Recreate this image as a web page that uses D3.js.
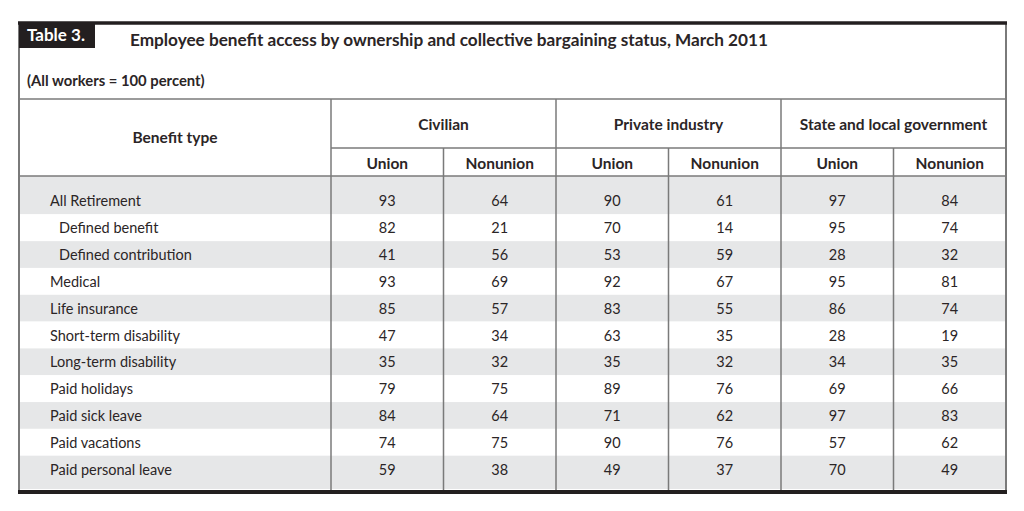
<!DOCTYPE html>
<html><head><meta charset="utf-8">
<script src="https://cdn.jsdelivr.net/npm/d3@7"></script>
<style>
html,body{margin:0;padding:0;background:#fff;}
svg{display:block;font-family:Lato,"Open Sans",sans-serif;}
</style></head>
<body>
<svg id="chart" width="1024" height="511"></svg>
<script>
const tableLabel = "Table 3.";
const title = "Employee benefit access by ownership and collective bargaining status, March 2011";
const subtitle = "(All workers = 100 percent)";
const stubHeader = "Benefit type";
const groups = ["Civilian", "Private industry", "State and local government"];
const subCols = ["Union", "Nonunion"];
const benefits = ["All Retirement", "Defined benefit", "Defined contribution", "Medical", "Life insurance",
  "Short-term disability", "Long-term disability", "Paid holidays", "Paid sick leave", "Paid vacations", "Paid personal leave"];
const indented = [false, true, true, false, false, false, false, false, false, false, false];
const civilianUnion =    [93, 82, 41, 93, 85, 47, 35, 79, 84, 74, 59];
const civilianNonunion = [64, 21, 56, 69, 57, 34, 32, 75, 64, 75, 38];
const privateUnion =     [90, 70, 53, 92, 83, 63, 35, 89, 71, 90, 49];
const privateNonunion =  [61, 14, 59, 67, 55, 35, 32, 76, 62, 76, 37];
const stateUnion =       [97, 95, 28, 95, 86, 28, 34, 69, 97, 57, 70];
const stateNonunion =    [84, 74, 32, 81, 74, 19, 35, 66, 83, 62, 49];
const seriesValues = [civilianUnion, civilianNonunion, privateUnion, privateNonunion, stateUnion, stateNonunion];

const svg = d3.select("#chart");
const L = 19, R = 1006, T = 23, B = 491;
const stubR = 331;
const yHead1 = 99, yHead2 = 148, yBody = 176;
const textColor = "#2b2526", lineColor = "#7a7a7a", band = "#e6e7e8";

const x = d3.scaleBand().domain(groups).range([stubR, R]);
const xs = d3.scaleBand().domain(subCols).range([0, x.bandwidth()]);
const y = d3.scaleBand().domain(d3.range(benefits.length)).range([187.5, 482.5]);

// background bands
svg.selectAll("rect.band").data(benefits).join("rect")
  .attr("class", "band")
  .attr("x", L).attr("width", R - L)
  .attr("y", (d, i) => i === 0 ? yBody : y(i))
  .attr("height", (d, i) => i === 0 ? y(i) + y.bandwidth() - yBody : (i === benefits.length - 1 ? B - 2 - y(i) : y.bandwidth()))
  .attr("fill", (d, i) => i % 2 === 0 ? band : "#fff");

// horizontal rules
const hl = (x1, x2, yy, w, c) => svg.append("line").attr("x1", x1).attr("x2", x2).attr("y1", yy).attr("y2", yy)
  .attr("stroke", c || lineColor).attr("stroke-width", w || 1.5);
hl(L, R, yHead1);
hl(stubR, R, yHead2);
hl(L, R, yBody);

// vertical rules
const vl = (xx, y1, y2, w, c) => svg.append("line").attr("x1", xx).attr("x2", xx).attr("y1", y1).attr("y2", y2)
  .attr("stroke", c || lineColor).attr("stroke-width", w || 1.5);
vl(stubR, yHead1, B);
groups.forEach((g, gi) => {
  if (gi > 0) vl(x(g), yHead1, B);
  vl(x(g) + xs("Nonunion"), yHead2, B);
});
// outer border
vl(L, T, B, 2);
vl(R, T, B, 2);
hl(L - 1, R + 1, T, 3.5, "#231f20");
hl(L - 1, R + 1, B + 1, 4, "#231f20");

// table label box
svg.append("rect").attr("x", L).attr("y", T).attr("width", 76).attr("height", 25).attr("fill", "#231f20");
svg.append("text").attr("x", 27).attr("y", 40.5).attr("fill", "#fff").attr("font-weight", "bold").attr("font-size", 17).text(tableLabel);
svg.append("text").attr("x", 130).attr("y", 45.5).attr("fill", textColor).attr("font-weight", "bold").attr("font-size", 17.2)
  .attr("textLength", 638).attr("lengthAdjust", "spacing").text(title);
svg.append("text").attr("x", 27).attr("y", 85.5).attr("fill", textColor).attr("font-weight", "bold").attr("font-size", 14.8).text(subtitle);

// header text
const hfs = 15.5;
svg.append("text").attr("x", (L + stubR) / 2).attr("y", 137).attr("text-anchor", "middle").attr("dominant-baseline", "central")
  .attr("fill", textColor).attr("font-weight", "bold").attr("font-size", hfs).text(stubHeader);
svg.selectAll("text.grp").data(groups).join("text").attr("class", "grp")
  .attr("x", d => x(d) + x.bandwidth() / 2).attr("y", 124).attr("text-anchor", "middle").attr("dominant-baseline", "central")
  .attr("fill", textColor).attr("font-weight", "bold").attr("font-size", hfs).text(d => d);
groups.forEach(g => {
  svg.selectAll(null).data(subCols).join("text")
    .attr("x", d => x(g) + xs(d) + xs.bandwidth() / 2).attr("y", 163).attr("text-anchor", "middle").attr("dominant-baseline", "central")
    .attr("fill", textColor).attr("font-weight", "bold").attr("font-size", hfs).text(d => d);
});

// stub labels
svg.selectAll("text.stub").data(benefits).join("text").attr("class", "stub")
  .attr("x", (d, i) => indented[i] ? 59 : 50).attr("y", (d, i) => y(i) + y.bandwidth() / 2)
  .attr("dominant-baseline", "central").attr("fill", textColor).attr("font-size", 14.5).text(d => d);

// values
const colKeys = [];
groups.forEach(g => subCols.forEach(s => colKeys.push([g, s])));
seriesValues.forEach((vals, ci) => {
  const [g, s] = colKeys[ci];
  svg.selectAll(null).data(vals).join("text")
    .attr("x", x(g) + xs(s) + xs.bandwidth() / 2).attr("y", (d, i) => y(i) + y.bandwidth() / 2)
    .attr("text-anchor", "middle").attr("dominant-baseline", "central")
    .attr("fill", textColor).attr("font-size", 14.5).text(d => d);
});
</script>
</body></html>
